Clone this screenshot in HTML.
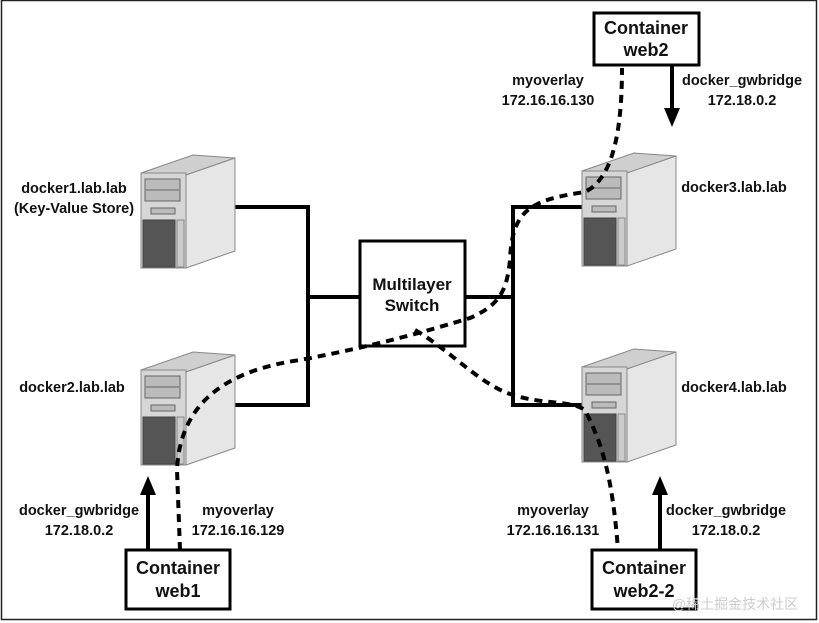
<!DOCTYPE html>
<html><head><meta charset="utf-8"><style>
body{margin:0;background:#fff}
svg{display:block}
text{font-family:"Liberation Sans",Arial,sans-serif;font-weight:bold;fill:#111}
</style></head><body>
<svg width="819" height="623" viewBox="0 0 819 623" xmlns="http://www.w3.org/2000/svg">
<defs>
<g id="srv">
<polygon points="0,18 45,20 94,3 52,0" fill="#cfcfcf" stroke="#888" stroke-width="1"/>
<polygon points="45,20 94,3 94,96 45,113" fill="#e6e6e6" stroke="#888" stroke-width="1"/>
<rect x="0" y="18" width="45" height="95" fill="#d6d6d6" stroke="#888" stroke-width="1"/>
<rect x="4" y="24" width="35" height="22" fill="#bbb" stroke="#666" stroke-width="1"/>
<line x1="5" y1="35" x2="38" y2="35" stroke="#666"/>
<rect x="10" y="53" width="24" height="6" fill="#bbb" stroke="#666"/>
<rect x="2" y="65" width="32" height="47" fill="#555" stroke="#444"/>
<rect x="36" y="65" width="7" height="47" fill="#ccc" stroke="#888"/>
</g>
</defs>
<rect x="1.5" y="0.5" width="815" height="619" fill="none" stroke="#222" stroke-width="1.5"/>

<g stroke="#000" stroke-width="4" fill="none">
<polyline points="235,207 308,207 308,405 235,405"/>
<line x1="308" y1="297" x2="360" y2="297"/>
<line x1="465" y1="297" x2="513" y2="297"/>
<polyline points="582,207 513,207 513,405 582,405"/>
</g>

<use href="#srv" x="141" y="155"/>
<use href="#srv" x="141" y="352"/>
<use href="#srv" x="582" y="153"/>
<use href="#srv" x="582" y="349"/>

<rect x="360" y="241" width="105" height="105" fill="#fff" stroke="#000" stroke-width="3"/>
<text x="412" y="290" font-size="17" text-anchor="middle">Multilayer</text>
<text x="412" y="311" font-size="17" text-anchor="middle">Switch</text>

<g stroke="#000" stroke-width="4" fill="none" stroke-dasharray="8,6">
<path d="M180,550 L177,470 C180,400 230,370 300,360 C380,345 430,330 470,318 C500,305 507,290 510,260 C512,210 530,200 585,192 C610,180 622,140 622,68"/>
<path d="M415,330 C450,350 480,385 513,395 C545,405 570,400 585,410 C600,440 612,470 618,550"/>
</g>

<g stroke="#000" stroke-width="4">
<line x1="672" y1="66" x2="672" y2="112"/>
<line x1="148" y1="550" x2="148" y2="492"/>
<line x1="660" y1="550" x2="660" y2="492"/>
</g>
<polygon points="664,108 680,108 672,127" fill="#000"/>
<polygon points="140,495 156,495 148,476" fill="#000"/>
<polygon points="652,495 668,495 660,476" fill="#000"/>

<g fill="#fff" stroke="#000" stroke-width="3">
<rect x="594" y="13" width="105" height="52"/>
<rect x="126" y="550" width="104" height="59"/>
<rect x="592" y="550" width="104" height="59"/>
</g>
<g font-size="18" text-anchor="middle">
<text x="646" y="34">Container</text><text x="646" y="56">web2</text>
<text x="178" y="574">Container</text><text x="178" y="597">web1</text>
<text x="644" y="574">Container</text><text x="644" y="597">web2-2</text>
</g>

<g font-size="14.5" text-anchor="middle">
<text x="74" y="193">docker1.lab.lab</text>
<text x="74" y="213">(Key-Value Store)</text>
<text x="72" y="392">docker2.lab.lab</text>
<text x="734" y="192">docker3.lab.lab</text>
<text x="734" y="392">docker4.lab.lab</text>
<text x="548" y="85">myoverlay</text>
<text x="548" y="105">172.16.16.130</text>
<text x="742" y="85">docker_gwbridge</text>
<text x="742" y="105">172.18.0.2</text>
<text x="79" y="515">docker_gwbridge</text>
<text x="79" y="535">172.18.0.2</text>
<text x="238" y="515">myoverlay</text>
<text x="238" y="535">172.16.16.129</text>
<text x="553" y="515">myoverlay</text>
<text x="553" y="535">172.16.16.131</text>
<text x="726" y="515">docker_gwbridge</text>
<text x="726" y="535">172.18.0.2</text>
</g>
<text x="735" y="609" font-size="14" text-anchor="middle" style="font-weight:normal;fill:#ccc;font-family:'Liberation Sans','Noto Sans CJK SC',sans-serif">@稀土掘金技术社区</text>
</svg>
</body></html>
